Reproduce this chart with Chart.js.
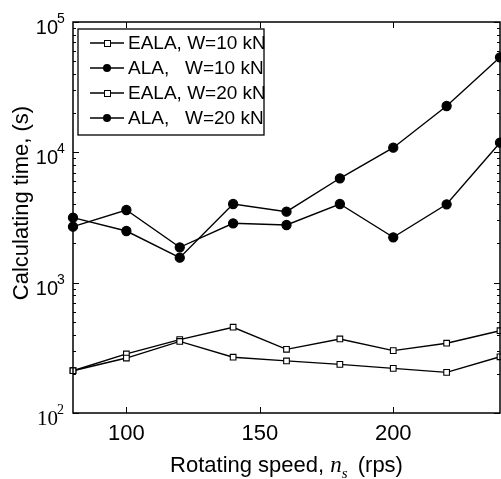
<!DOCTYPE html>
<html lang="en">
<head>
    <meta charset="UTF-8">
    <title>Calculating time vs rotating speed</title>
    <script src="https://cdn.jsdelivr.net/npm/chart.js"></script>
    <style>
        body { margin: 0; background: #ffffff; }
        canvas { display: block; }
    </style>
</head>
<body>
    <canvas id="timeChart" width="501" height="479"></canvas>

    <script>
        // Data
        const speeds = [80, 100, 120, 140, 160, 180, 200, 220, 240];
        const ealaW10 = [211, 264, 354, 268, 251, 236, 220, 205, 270];
        const alaW10 = [2689, 3611, 1868, 2855, 2770, 4015, 2229, 3994, 11858];
        const ealaW20 = [211, 284, 366, 455, 308, 370, 301, 343, 428];
        const alaW20 = [3152, 2491, 1555, 4015, 3503, 6323, 10854, 22670, 53600];

        const seriesLabels = ['EALA, W=10 kN', 'ALA,   W=10 kN', 'EALA, W=20 kN', 'ALA,   W=20 kN'];
        const xTickValues = [100, 150, 200];
        const yDecadeExps = [2, 3, 4, 5];

        const SANS = '"Liberation Sans", Arial, sans-serif';

        function makeSet(label, values, square) {
            return {
                label: label,
                data: speeds.map((s, i) => ({ x: s, y: values[i] })),
                borderColor: '#000',
                borderWidth: 1.4,
                pointStyle: square ? 'rect' : 'circle',
                pointRadius: square ? 4 : 4.6,
                pointBackgroundColor: square ? '#fff' : '#000',
                pointBorderColor: '#000',
                pointBorderWidth: 1.1,
                tension: 0,
                clip: false
            };
        }

        // frame, inward ticks, tick labels, axis titles and the legend box
        const axesPlugin = {
            id: 'axesPlugin',
            afterDatasetsDraw(chart) {
                const ctx = chart.ctx;
                const a = chart.chartArea;
                const xs = chart.scales.x, ys = chart.scales.y;
                ctx.save();
                ctx.strokeStyle = '#000';
                ctx.fillStyle = '#000';

                // frame
                ctx.lineWidth = 1.5;
                ctx.strokeRect(a.left, a.top, a.right - a.left, a.bottom - a.top);

                // y ticks (log, major + minor) on both sides
                ctx.lineWidth = 1;
                ctx.beginPath();
                for (let e = 2; e <= 5; e++) {
                    for (let m = 1; m <= 9; m++) {
                        const v = m * Math.pow(10, e);
                        if (v > 100000) break;
                        const py = Math.round(ys.getPixelForValue(v)) + 0.5;
                        const len = m === 1 ? 6 : 3;
                        ctx.moveTo(a.left, py); ctx.lineTo(a.left + len, py);
                        ctx.moveTo(a.right, py); ctx.lineTo(a.right - len, py);
                    }
                }
                // x ticks top and bottom
                xTickValues.forEach(v => {
                    const px = Math.round(xs.getPixelForValue(v)) + 0.5;
                    ctx.moveTo(px, a.bottom); ctx.lineTo(px, a.bottom - 6);
                    ctx.moveTo(px, a.top); ctx.lineTo(px, a.top + 6);
                });
                ctx.stroke();

                // x tick labels
                ctx.font = '22px ' + SANS;
                ctx.textAlign = 'center';
                ctx.textBaseline = 'middle';
                xTickValues.forEach(v => {
                    ctx.fillText(String(v), xs.getPixelForValue(v), a.bottom + 21);
                });

                // y tick labels 10^n
                yDecadeExps.forEach(e => {
                    const py = ys.getPixelForValue(Math.pow(10, e));
                    const baseFont = e === 2 ? '21px "Liberation Serif", "Times New Roman", serif' : '20px ' + SANS;
                    ctx.font = baseFont;
                    ctx.textAlign = 'right';
                    ctx.textBaseline = 'alphabetic';
                    ctx.fillText('10', 58, py + 12);
                    ctx.font = (e === 2 ? '14px "Liberation Serif", serif' : '14px ' + SANS);
                    ctx.textAlign = 'left';
                    ctx.fillText(String(e), 57, py + 1);
                });

                // x axis title: Rotating speed, n_s (rps)
                const part1 = 'Rotating speed, ';
                const part3 = ' (rps)';
                ctx.textAlign = 'left';
                ctx.textBaseline = 'alphabetic';
                ctx.font = '22px ' + SANS;
                const w1 = ctx.measureText(part1).width;
                const w3 = ctx.measureText(part3).width;
                ctx.font = 'italic 23px "Liberation Serif", serif';
                const wn = ctx.measureText('n').width;
                ctx.font = 'italic 15px "Liberation Serif", serif';
                const ws = ctx.measureText('s').width;
                const total = w1 + wn + ws + 4 + w3;
                let tx = (a.left + a.right) / 2 - total / 2;
                const ty = 472;
                ctx.font = '22px ' + SANS;
                ctx.fillText(part1, tx, ty); tx += w1;
                ctx.font = 'italic 23px "Liberation Serif", serif';
                ctx.fillText('n', tx, ty); tx += wn;
                ctx.font = 'italic 15px "Liberation Serif", serif';
                ctx.fillText('s', tx, ty + 6); tx += ws + 4;
                ctx.font = '22px ' + SANS;
                ctx.fillText(part3, tx, ty);

                // y axis title
                ctx.save();
                ctx.translate(22, 203);
                ctx.rotate(-Math.PI / 2);
                ctx.textAlign = 'center';
                ctx.textBaseline = 'middle';
                ctx.font = '22px ' + SANS;
                ctx.fillText('Calculating time, (s)', 0, 0);
                ctx.restore();

                // legend box
                const lx = 78, ly = 29, lw = 186, lh = 106;
                ctx.fillStyle = '#fff';
                ctx.fillRect(lx, ly, lw, lh);
                ctx.fillStyle = '#000';
                chart.data.datasets.forEach((ds, i) => {
                    const ry = 43 + i * 25;
                    ctx.lineWidth = 1.4;
                    ctx.beginPath();
                    ctx.moveTo(90, ry); ctx.lineTo(124, ry);
                    ctx.stroke();
                    ctx.lineWidth = 1;
                    if (ds.pointStyle === 'rect') {
                        ctx.fillStyle = '#fff';
                        ctx.fillRect(104, ry - 3, 6, 6);
                        ctx.strokeRect(104.5, ry - 2.5, 6, 6);
                        ctx.fillStyle = '#000';
                    } else {
                        ctx.beginPath();
                        ctx.arc(107, ry, 4, 0, Math.PI * 2);
                        ctx.fill();
                    }
                    ctx.font = '19px ' + SANS;
                    ctx.textAlign = 'left';
                    ctx.textBaseline = 'middle';
                    ctx.fillText(ds.label, 128, ry + 1);
                });
                ctx.lineWidth = 1.3;
                ctx.strokeRect(lx, ly, lw, lh);
                ctx.restore();
            }
        };

        new Chart(document.getElementById('timeChart').getContext('2d'), {
            type: 'line',
            data: {
                datasets: [
                    makeSet(seriesLabels[0], ealaW10, true),
                    makeSet(seriesLabels[1], alaW10, false),
                    makeSet(seriesLabels[2], ealaW20, true),
                    makeSet(seriesLabels[3], alaW20, false)
                ]
            },
            options: {
                responsive: false,
                animation: false,
                layout: { autoPadding: false, padding: { top: 22, right: 1, left: 0, bottom: 0 } },
                plugins: {
                    legend: { display: false },
                    tooltip: { enabled: false }
                },
                scales: {
                    x: {
                        type: 'linear',
                        min: 80,
                        max: 240,
                        grid: { display: false },
                        border: { display: false },
                        ticks: { display: false },
                        afterFit: s => { s.height = 66; }
                    },
                    y: {
                        type: 'logarithmic',
                        min: 100,
                        max: 100000,
                        grid: { display: false },
                        border: { display: false },
                        ticks: { display: false },
                        afterFit: s => { s.width = 73; }
                    }
                }
            },
            plugins: [axesPlugin]
        });
    </script>
</body>
</html>
